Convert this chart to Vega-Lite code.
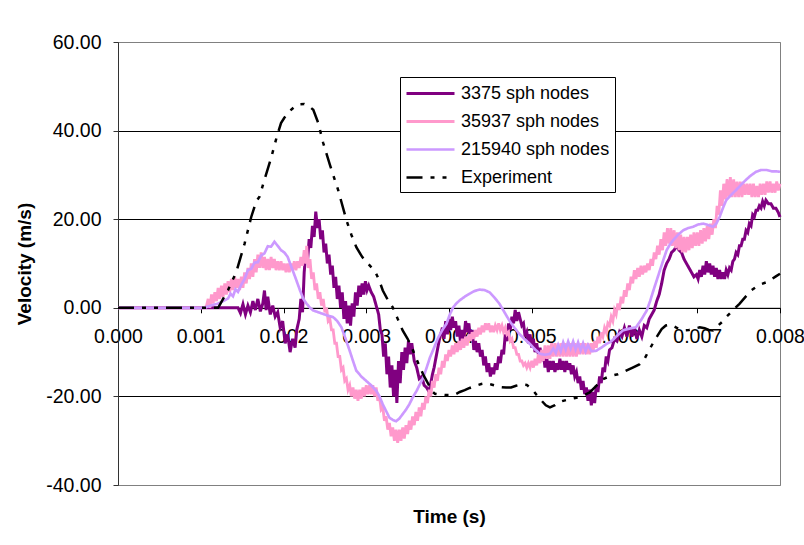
{
  "$schema": "https://vega.github.io/schema/vega-lite/v6.json",
  "width": 662,
  "height": 443,
  "autosize": {"type": "none"},
  "padding": {"left": 118, "top": 42, "right": 24, "bottom": 60},
  "background": "white",
  "config": {
    "font": "Liberation Sans",
    "view": {"stroke": "#808080", "strokeWidth": 1},
    "axis": {
      "labelFont": "Liberation Sans",
      "titleFont": "Liberation Sans",
      "labelColor": "#000",
      "titleColor": "#000",
      "labelFontSize": 19.5,
      "titleFontSize": 19,
      "titleFontWeight": "bold"
    }
  },
  "data": {
    "values": [
      {"s":"3375 sph nodes","t":0,"v":0},{"s":"3375 sph nodes","t":0.0014,"v":0},{"s":"3375 sph nodes","t":0.00145,"v":0},
      {"s":"3375 sph nodes","t":0.00148,"v":-1.2},{"s":"3375 sph nodes","t":0.00151,"v":0.8},{"s":"3375 sph nodes","t":0.00154,"v":-1.5},{"s":"3375 sph nodes","t":0.00157,"v":0.5},
      {"s":"3375 sph nodes","t":0.0016,"v":-1.0},{"s":"3375 sph nodes","t":0.00163,"v":1.5},{"s":"3375 sph nodes","t":0.00166,"v":-0.5},{"s":"3375 sph nodes","t":0.00169,"v":2.0},
      {"s":"3375 sph nodes","t":0.00172,"v":-0.8},{"s":"3375 sph nodes","t":0.00175,"v":1.0},{"s":"3375 sph nodes","t":0.00177,"v":3.9},{"s":"3375 sph nodes","t":0.00179,"v":-0.5},
      {"s":"3375 sph nodes","t":0.00181,"v":2.5},{"s":"3375 sph nodes","t":0.00184,"v":-1.5},{"s":"3375 sph nodes","t":0.00187,"v":0.5},{"s":"3375 sph nodes","t":0.0019,"v":-2.0},
      {"s":"3375 sph nodes","t":0.00193,"v":-1.0},{"s":"3375 sph nodes","t":0.00196,"v":-4.5},{"s":"3375 sph nodes","t":0.00199,"v":-3.0},{"s":"3375 sph nodes","t":0.00202,"v":-8.0},
      {"s":"3375 sph nodes","t":0.00205,"v":-6.0},{"s":"3375 sph nodes","t":0.00208,"v":-10.0},{"s":"3375 sph nodes","t":0.00211,"v":-7.0},{"s":"3375 sph nodes","t":0.00214,"v":-9.0},
      {"s":"3375 sph nodes","t":0.00216,"v":-5.0},{"s":"3375 sph nodes","t":0.00219,"v":-2.5},{"s":"3375 sph nodes","t":0.00221,"v":2.0},{"s":"3375 sph nodes","t":0.00223,"v":-1.0},
      {"s":"3375 sph nodes","t":0.00225,"v":8.0},{"s":"3375 sph nodes","t":0.00227,"v":12.5},{"s":"3375 sph nodes","t":0.00229,"v":10.5},{"s":"3375 sph nodes","t":0.00231,"v":15.5},
      {"s":"3375 sph nodes","t":0.00233,"v":13.5},{"s":"3375 sph nodes","t":0.00235,"v":18.5},{"s":"3375 sph nodes","t":0.00237,"v":16.0},{"s":"3375 sph nodes","t":0.00239,"v":21.7},
      {"s":"3375 sph nodes","t":0.00241,"v":18.0},{"s":"3375 sph nodes","t":0.00243,"v":20.0},{"s":"3375 sph nodes","t":0.00245,"v":15.5},{"s":"3375 sph nodes","t":0.00247,"v":17.5},
      {"s":"3375 sph nodes","t":0.00249,"v":12.5},{"s":"3375 sph nodes","t":0.00251,"v":14.5},{"s":"3375 sph nodes","t":0.00253,"v":10.0},{"s":"3375 sph nodes","t":0.00255,"v":12.0},
      {"s":"3375 sph nodes","t":0.00257,"v":7.5},{"s":"3375 sph nodes","t":0.00259,"v":9.5},{"s":"3375 sph nodes","t":0.00261,"v":4.5},{"s":"3375 sph nodes","t":0.00263,"v":7.0},
      {"s":"3375 sph nodes","t":0.00265,"v":2.0},{"s":"3375 sph nodes","t":0.00267,"v":5.0},{"s":"3375 sph nodes","t":0.00269,"v":0.0},{"s":"3375 sph nodes","t":0.00271,"v":3.5},
      {"s":"3375 sph nodes","t":0.00273,"v":-2.5},{"s":"3375 sph nodes","t":0.00275,"v":1.5},{"s":"3375 sph nodes","t":0.00277,"v":-3.5},{"s":"3375 sph nodes","t":0.00279,"v":0.5},
      {"s":"3375 sph nodes","t":0.00281,"v":-4.0},{"s":"3375 sph nodes","t":0.00283,"v":1.0},{"s":"3375 sph nodes","t":0.00285,"v":-2.0},{"s":"3375 sph nodes","t":0.00287,"v":3.5},
      {"s":"3375 sph nodes","t":0.00289,"v":0.5},{"s":"3375 sph nodes","t":0.00291,"v":5.0},{"s":"3375 sph nodes","t":0.00293,"v":2.5},{"s":"3375 sph nodes","t":0.00295,"v":5.5},
      {"s":"3375 sph nodes","t":0.00297,"v":3.0},{"s":"3375 sph nodes","t":0.00299,"v":6.0},{"s":"3375 sph nodes","t":0.00301,"v":4.0},{"s":"3375 sph nodes","t":0.00303,"v":5.0},
      {"s":"3375 sph nodes","t":0.00306,"v":3.5},{"s":"3375 sph nodes","t":0.00309,"v":2.5},{"s":"3375 sph nodes","t":0.00312,"v":0.5},{"s":"3375 sph nodes","t":0.00315,"v":-1.5},
      {"s":"3375 sph nodes","t":0.00317,"v":-5.0},{"s":"3375 sph nodes","t":0.00319,"v":-6.0},{"s":"3375 sph nodes","t":0.00321,"v":-11.0},{"s":"3375 sph nodes","t":0.00323,"v":-8.0},
      {"s":"3375 sph nodes","t":0.00325,"v":-15.0},{"s":"3375 sph nodes","t":0.00327,"v":-11.0},{"s":"3375 sph nodes","t":0.00329,"v":-18.0},{"s":"3375 sph nodes","t":0.00331,"v":-13.0},
      {"s":"3375 sph nodes","t":0.00333,"v":-20.0},{"s":"3375 sph nodes","t":0.00335,"v":-14.0},{"s":"3375 sph nodes","t":0.00337,"v":-21.5},{"s":"3375 sph nodes","t":0.00339,"v":-12.0},
      {"s":"3375 sph nodes","t":0.00341,"v":-17.0},{"s":"3375 sph nodes","t":0.00343,"v":-10.0},{"s":"3375 sph nodes","t":0.00345,"v":-14.0},{"s":"3375 sph nodes","t":0.00347,"v":-9.0},
      {"s":"3375 sph nodes","t":0.00349,"v":-12.5},{"s":"3375 sph nodes","t":0.00351,"v":-7.5},{"s":"3375 sph nodes","t":0.00353,"v":-10.5},{"s":"3375 sph nodes","t":0.00355,"v":-8.0},
      {"s":"3375 sph nodes","t":0.00358,"v":-12.0},{"s":"3375 sph nodes","t":0.00361,"v":-13.5},{"s":"3375 sph nodes","t":0.00364,"v":-16.0},{"s":"3375 sph nodes","t":0.00367,"v":-15.5},
      {"s":"3375 sph nodes","t":0.0037,"v":-17.5},{"s":"3375 sph nodes","t":0.00373,"v":-18.0},{"s":"3375 sph nodes","t":0.00376,"v":-19.0},{"s":"3375 sph nodes","t":0.00378,"v":-17.0},
      {"s":"3375 sph nodes","t":0.0038,"v":-15.0},{"s":"3375 sph nodes","t":0.00382,"v":-13.5},{"s":"3375 sph nodes","t":0.00384,"v":-11.5},{"s":"3375 sph nodes","t":0.00386,"v":-9.5},
      {"s":"3375 sph nodes","t":0.00388,"v":-7.5},{"s":"3375 sph nodes","t":0.0039,"v":-6.0},{"s":"3375 sph nodes","t":0.00392,"v":-4.5},{"s":"3375 sph nodes","t":0.00394,"v":-7.0},
      {"s":"3375 sph nodes","t":0.00396,"v":-3.0},{"s":"3375 sph nodes","t":0.00398,"v":-6.0},{"s":"3375 sph nodes","t":0.004,"v":-2.5},{"s":"3375 sph nodes","t":0.00402,"v":-5.0},
      {"s":"3375 sph nodes","t":0.00404,"v":-2.0},{"s":"3375 sph nodes","t":0.00406,"v":-4.5},{"s":"3375 sph nodes","t":0.00408,"v":-3.0},{"s":"3375 sph nodes","t":0.0041,"v":-6.5},
      {"s":"3375 sph nodes","t":0.00412,"v":-4.0},{"s":"3375 sph nodes","t":0.00414,"v":-8.0},{"s":"3375 sph nodes","t":0.00416,"v":-5.0},{"s":"3375 sph nodes","t":0.00418,"v":-7.0},
      {"s":"3375 sph nodes","t":0.0042,"v":-3.0},{"s":"3375 sph nodes","t":0.00422,"v":-5.5},{"s":"3375 sph nodes","t":0.00424,"v":-3.5},{"s":"3375 sph nodes","t":0.00426,"v":-7.0},
      {"s":"3375 sph nodes","t":0.00428,"v":-5.0},{"s":"3375 sph nodes","t":0.0043,"v":-9.5},{"s":"3375 sph nodes","t":0.00432,"v":-7.5},{"s":"3375 sph nodes","t":0.00434,"v":-10.0},
      {"s":"3375 sph nodes","t":0.00436,"v":-8.0},{"s":"3375 sph nodes","t":0.00438,"v":-11.0},{"s":"3375 sph nodes","t":0.0044,"v":-9.5},{"s":"3375 sph nodes","t":0.00442,"v":-13.0},
      {"s":"3375 sph nodes","t":0.00444,"v":-11.0},{"s":"3375 sph nodes","t":0.00446,"v":-14.5},{"s":"3375 sph nodes","t":0.00448,"v":-12.5},{"s":"3375 sph nodes","t":0.0045,"v":-15.5},
      {"s":"3375 sph nodes","t":0.00452,"v":-13.5},{"s":"3375 sph nodes","t":0.00454,"v":-15.0},{"s":"3375 sph nodes","t":0.00456,"v":-12.5},{"s":"3375 sph nodes","t":0.00458,"v":-14.0},
      {"s":"3375 sph nodes","t":0.0046,"v":-11.0},{"s":"3375 sph nodes","t":0.00462,"v":-12.5},{"s":"3375 sph nodes","t":0.00464,"v":-9.5},{"s":"3375 sph nodes","t":0.00466,"v":-10.5},
      {"s":"3375 sph nodes","t":0.00468,"v":-6.0},{"s":"3375 sph nodes","t":0.0047,"v":-7.5},{"s":"3375 sph nodes","t":0.00472,"v":-3.5},{"s":"3375 sph nodes","t":0.00474,"v":-5.0},
      {"s":"3375 sph nodes","t":0.00476,"v":-2.0},{"s":"3375 sph nodes","t":0.00478,"v":-3.5},{"s":"3375 sph nodes","t":0.0048,"v":-0.5},{"s":"3375 sph nodes","t":0.00482,"v":-3.0},
      {"s":"3375 sph nodes","t":0.00484,"v":-1.0},{"s":"3375 sph nodes","t":0.00486,"v":-2.5},{"s":"3375 sph nodes","t":0.00488,"v":-4.0},{"s":"3375 sph nodes","t":0.0049,"v":-3.5},
      {"s":"3375 sph nodes","t":0.00492,"v":-6.5},{"s":"3375 sph nodes","t":0.00494,"v":-5.5},{"s":"3375 sph nodes","t":0.00496,"v":-8.0},{"s":"3375 sph nodes","t":0.00498,"v":-6.0},
      {"s":"3375 sph nodes","t":0.005,"v":-9.0},{"s":"3375 sph nodes","t":0.00502,"v":-7.0},{"s":"3375 sph nodes","t":0.00504,"v":-10.0},{"s":"3375 sph nodes","t":0.00506,"v":-8.0},
      {"s":"3375 sph nodes","t":0.00508,"v":-10.5},{"s":"3375 sph nodes","t":0.0051,"v":-9.0},{"s":"3375 sph nodes","t":0.00512,"v":-12.0},{"s":"3375 sph nodes","t":0.00514,"v":-10.0},
      {"s":"3375 sph nodes","t":0.00516,"v":-13.5},{"s":"3375 sph nodes","t":0.00518,"v":-11.0},{"s":"3375 sph nodes","t":0.0052,"v":-14.5},{"s":"3375 sph nodes","t":0.00522,"v":-12.0},
      {"s":"3375 sph nodes","t":0.00524,"v":-14.0},{"s":"3375 sph nodes","t":0.00526,"v":-12.0},{"s":"3375 sph nodes","t":0.00528,"v":-14.5},{"s":"3375 sph nodes","t":0.0053,"v":-12.5},
      {"s":"3375 sph nodes","t":0.00532,"v":-14.0},{"s":"3375 sph nodes","t":0.00534,"v":-11.5},{"s":"3375 sph nodes","t":0.00536,"v":-14.0},{"s":"3375 sph nodes","t":0.00538,"v":-12.0},
      {"s":"3375 sph nodes","t":0.0054,"v":-14.5},{"s":"3375 sph nodes","t":0.00542,"v":-12.0},{"s":"3375 sph nodes","t":0.00544,"v":-14.0},{"s":"3375 sph nodes","t":0.00546,"v":-12.5},
      {"s":"3375 sph nodes","t":0.00548,"v":-15.0},{"s":"3375 sph nodes","t":0.0055,"v":-13.0},{"s":"3375 sph nodes","t":0.00552,"v":-15.5},{"s":"3375 sph nodes","t":0.00554,"v":-14.5},
      {"s":"3375 sph nodes","t":0.00556,"v":-17.0},{"s":"3375 sph nodes","t":0.00558,"v":-15.5},{"s":"3375 sph nodes","t":0.0056,"v":-18.5},{"s":"3375 sph nodes","t":0.00562,"v":-16.5},
      {"s":"3375 sph nodes","t":0.00564,"v":-19.5},{"s":"3375 sph nodes","t":0.00566,"v":-18.0},{"s":"3375 sph nodes","t":0.00568,"v":-21.0},{"s":"3375 sph nodes","t":0.0057,"v":-18.5},
      {"s":"3375 sph nodes","t":0.00572,"v":-22.0},{"s":"3375 sph nodes","t":0.00574,"v":-19.0},{"s":"3375 sph nodes","t":0.00576,"v":-21.5},{"s":"3375 sph nodes","t":0.00578,"v":-17.5},
      {"s":"3375 sph nodes","t":0.0058,"v":-19.0},{"s":"3375 sph nodes","t":0.00582,"v":-15.5},{"s":"3375 sph nodes","t":0.00584,"v":-17.0},{"s":"3375 sph nodes","t":0.00586,"v":-13.5},
      {"s":"3375 sph nodes","t":0.00588,"v":-14.5},{"s":"3375 sph nodes","t":0.0059,"v":-11.0},{"s":"3375 sph nodes","t":0.00592,"v":-12.0},{"s":"3375 sph nodes","t":0.00594,"v":-9.5},
      {"s":"3375 sph nodes","t":0.00597,"v":-9.0},{"s":"3375 sph nodes","t":0.006,"v":-7.0},{"s":"3375 sph nodes","t":0.00603,"v":-7.5},{"s":"3375 sph nodes","t":0.00606,"v":-5.5},
      {"s":"3375 sph nodes","t":0.00609,"v":-6.5},{"s":"3375 sph nodes","t":0.00612,"v":-4.5},{"s":"3375 sph nodes","t":0.00615,"v":-6.5},{"s":"3375 sph nodes","t":0.00618,"v":-4.0},
      {"s":"3375 sph nodes","t":0.00621,"v":-6.5},{"s":"3375 sph nodes","t":0.00624,"v":-4.5},{"s":"3375 sph nodes","t":0.00627,"v":-7.0},{"s":"3375 sph nodes","t":0.0063,"v":-5.0},
      {"s":"3375 sph nodes","t":0.00633,"v":-6.5},{"s":"3375 sph nodes","t":0.00636,"v":-4.0},{"s":"3375 sph nodes","t":0.00639,"v":-4.5},{"s":"3375 sph nodes","t":0.00642,"v":-2.5},
      {"s":"3375 sph nodes","t":0.00645,"v":-1.5},{"s":"3375 sph nodes","t":0.00648,"v":-0.5},{"s":"3375 sph nodes","t":0.00651,"v":1.5},{"s":"3375 sph nodes","t":0.00654,"v":3.0},
      {"s":"3375 sph nodes","t":0.00657,"v":5.5},{"s":"3375 sph nodes","t":0.0066,"v":8.5},{"s":"3375 sph nodes","t":0.00663,"v":10.0},{"s":"3375 sph nodes","t":0.00666,"v":11.0},
      {"s":"3375 sph nodes","t":0.00669,"v":12.5},{"s":"3375 sph nodes","t":0.00672,"v":13.0},{"s":"3375 sph nodes","t":0.00675,"v":14.0},{"s":"3375 sph nodes","t":0.00678,"v":13.0},
      {"s":"3375 sph nodes","t":0.00681,"v":12.5},{"s":"3375 sph nodes","t":0.00684,"v":11.0},{"s":"3375 sph nodes","t":0.00687,"v":10.0},{"s":"3375 sph nodes","t":0.0069,"v":9.0},
      {"s":"3375 sph nodes","t":0.00693,"v":8.0},{"s":"3375 sph nodes","t":0.00696,"v":7.0},{"s":"3375 sph nodes","t":0.00699,"v":7.5},{"s":"3375 sph nodes","t":0.00701,"v":6.5},
      {"s":"3375 sph nodes","t":0.00703,"v":8.5},{"s":"3375 sph nodes","t":0.00705,"v":7.0},{"s":"3375 sph nodes","t":0.00707,"v":9.5},{"s":"3375 sph nodes","t":0.00709,"v":7.5},
      {"s":"3375 sph nodes","t":0.00711,"v":10.5},{"s":"3375 sph nodes","t":0.00713,"v":8.0},{"s":"3375 sph nodes","t":0.00715,"v":10.0},{"s":"3375 sph nodes","t":0.00717,"v":7.5},
      {"s":"3375 sph nodes","t":0.00719,"v":9.5},{"s":"3375 sph nodes","t":0.00721,"v":7.0},{"s":"3375 sph nodes","t":0.00723,"v":9.0},{"s":"3375 sph nodes","t":0.00725,"v":6.5},
      {"s":"3375 sph nodes","t":0.00727,"v":8.5},{"s":"3375 sph nodes","t":0.00729,"v":6.5},{"s":"3375 sph nodes","t":0.00731,"v":8.0},{"s":"3375 sph nodes","t":0.00733,"v":6.5},
      {"s":"3375 sph nodes","t":0.00735,"v":8.5},{"s":"3375 sph nodes","t":0.00737,"v":7.5},{"s":"3375 sph nodes","t":0.00739,"v":9.0},{"s":"3375 sph nodes","t":0.00741,"v":8.5},
      {"s":"3375 sph nodes","t":0.00743,"v":10.5},{"s":"3375 sph nodes","t":0.00745,"v":11.0},{"s":"3375 sph nodes","t":0.00747,"v":12.5},{"s":"3375 sph nodes","t":0.00749,"v":12.0},
      {"s":"3375 sph nodes","t":0.00751,"v":14.0},{"s":"3375 sph nodes","t":0.00753,"v":14.0},{"s":"3375 sph nodes","t":0.00755,"v":15.5},{"s":"3375 sph nodes","t":0.00757,"v":15.5},
      {"s":"3375 sph nodes","t":0.00759,"v":17.5},{"s":"3375 sph nodes","t":0.00761,"v":17.0},{"s":"3375 sph nodes","t":0.00763,"v":19.0},{"s":"3375 sph nodes","t":0.00765,"v":18.5},
      {"s":"3375 sph nodes","t":0.00767,"v":21.0},{"s":"3375 sph nodes","t":0.00769,"v":20.5},{"s":"3375 sph nodes","t":0.00771,"v":22.0},{"s":"3375 sph nodes","t":0.00773,"v":22.0},
      {"s":"3375 sph nodes","t":0.00775,"v":23.0},{"s":"3375 sph nodes","t":0.00777,"v":22.5},{"s":"3375 sph nodes","t":0.00779,"v":24.0},{"s":"3375 sph nodes","t":0.00781,"v":23.0},
      {"s":"3375 sph nodes","t":0.00783,"v":24.3},{"s":"3375 sph nodes","t":0.00786,"v":23.5},{"s":"3375 sph nodes","t":0.00789,"v":23.5},{"s":"3375 sph nodes","t":0.00792,"v":22.5},
      {"s":"3375 sph nodes","t":0.00795,"v":22.5},{"s":"3375 sph nodes","t":0.00798,"v":21.5},{"s":"3375 sph nodes","t":0.008,"v":20.5},

      {"s":"35937 sph nodes","t":0,"v":0},{"s":"35937 sph nodes","t":0.00105,"v":0},{"s":"35937 sph nodes","t":0.00107,"v":0.5},{"s":"35937 sph nodes","t":0.00109,"v":2.0},
      {"s":"35937 sph nodes","t":0.00111,"v":0.0},{"s":"35937 sph nodes","t":0.00113,"v":3.0},{"s":"35937 sph nodes","t":0.00115,"v":1.0},{"s":"35937 sph nodes","t":0.00117,"v":3.5},
      {"s":"35937 sph nodes","t":0.00119,"v":1.5},{"s":"35937 sph nodes","t":0.00121,"v":4.5},{"s":"35937 sph nodes","t":0.00123,"v":2.0},{"s":"35937 sph nodes","t":0.00125,"v":5.0},
      {"s":"35937 sph nodes","t":0.00127,"v":2.5},{"s":"35937 sph nodes","t":0.00129,"v":5.5},{"s":"35937 sph nodes","t":0.00131,"v":3.0},{"s":"35937 sph nodes","t":0.00133,"v":6.0},
      {"s":"35937 sph nodes","t":0.00135,"v":3.5},{"s":"35937 sph nodes","t":0.00137,"v":6.5},{"s":"35937 sph nodes","t":0.00139,"v":4.0},{"s":"35937 sph nodes","t":0.00141,"v":7.0},
      {"s":"35937 sph nodes","t":0.00143,"v":4.5},{"s":"35937 sph nodes","t":0.00145,"v":6.5},{"s":"35937 sph nodes","t":0.00147,"v":4.0},{"s":"35937 sph nodes","t":0.00149,"v":7.0},
      {"s":"35937 sph nodes","t":0.00151,"v":4.5},{"s":"35937 sph nodes","t":0.00153,"v":8.0},{"s":"35937 sph nodes","t":0.00155,"v":5.5},{"s":"35937 sph nodes","t":0.00157,"v":9.0},
      {"s":"35937 sph nodes","t":0.00159,"v":6.5},{"s":"35937 sph nodes","t":0.00161,"v":10.0},{"s":"35937 sph nodes","t":0.00163,"v":7.0},{"s":"35937 sph nodes","t":0.00165,"v":11.0},
      {"s":"35937 sph nodes","t":0.00167,"v":8.0},{"s":"35937 sph nodes","t":0.00169,"v":12.0},{"s":"35937 sph nodes","t":0.00171,"v":9.0},{"s":"35937 sph nodes","t":0.00173,"v":12.5},
      {"s":"35937 sph nodes","t":0.00175,"v":9.0},{"s":"35937 sph nodes","t":0.00177,"v":11.5},{"s":"35937 sph nodes","t":0.00179,"v":8.5},{"s":"35937 sph nodes","t":0.00181,"v":11.0},
      {"s":"35937 sph nodes","t":0.00183,"v":8.5},{"s":"35937 sph nodes","t":0.00185,"v":11.5},{"s":"35937 sph nodes","t":0.00187,"v":9.0},{"s":"35937 sph nodes","t":0.00189,"v":11.0},
      {"s":"35937 sph nodes","t":0.00191,"v":8.5},{"s":"35937 sph nodes","t":0.00193,"v":10.5},{"s":"35937 sph nodes","t":0.00195,"v":8.5},{"s":"35937 sph nodes","t":0.00197,"v":10.5},
      {"s":"35937 sph nodes","t":0.00199,"v":8.5},{"s":"35937 sph nodes","t":0.00201,"v":10.0},{"s":"35937 sph nodes","t":0.00203,"v":8.0},{"s":"35937 sph nodes","t":0.00205,"v":10.0},
      {"s":"35937 sph nodes","t":0.00207,"v":8.0},{"s":"35937 sph nodes","t":0.00209,"v":10.0},{"s":"35937 sph nodes","t":0.00211,"v":8.5},{"s":"35937 sph nodes","t":0.00213,"v":10.5},
      {"s":"35937 sph nodes","t":0.00215,"v":8.5},{"s":"35937 sph nodes","t":0.00217,"v":10.5},{"s":"35937 sph nodes","t":0.00219,"v":9.0},{"s":"35937 sph nodes","t":0.00221,"v":11.5},
      {"s":"35937 sph nodes","t":0.00223,"v":9.5},{"s":"35937 sph nodes","t":0.00225,"v":13.0},{"s":"35937 sph nodes","t":0.00227,"v":10.0},{"s":"35937 sph nodes","t":0.00228,"v":14.0},
      {"s":"35937 sph nodes","t":0.0023,"v":9.0},{"s":"35937 sph nodes","t":0.00232,"v":11.0},{"s":"35937 sph nodes","t":0.00234,"v":6.5},{"s":"35937 sph nodes","t":0.00236,"v":8.0},
      {"s":"35937 sph nodes","t":0.00238,"v":4.0},{"s":"35937 sph nodes","t":0.0024,"v":5.5},{"s":"35937 sph nodes","t":0.00242,"v":2.0},{"s":"35937 sph nodes","t":0.00244,"v":3.5},
      {"s":"35937 sph nodes","t":0.00246,"v":0.5},{"s":"35937 sph nodes","t":0.00248,"v":2.0},{"s":"35937 sph nodes","t":0.0025,"v":-1.0},{"s":"35937 sph nodes","t":0.00252,"v":0.0},
      {"s":"35937 sph nodes","t":0.00254,"v":-3.0},{"s":"35937 sph nodes","t":0.00256,"v":-2.5},{"s":"35937 sph nodes","t":0.00258,"v":-5.0},{"s":"35937 sph nodes","t":0.0026,"v":-5.0},
      {"s":"35937 sph nodes","t":0.00262,"v":-8.0},{"s":"35937 sph nodes","t":0.00264,"v":-8.0},{"s":"35937 sph nodes","t":0.00266,"v":-11.0},{"s":"35937 sph nodes","t":0.00268,"v":-11.0},
      {"s":"35937 sph nodes","t":0.0027,"v":-14.0},{"s":"35937 sph nodes","t":0.00272,"v":-13.5},{"s":"35937 sph nodes","t":0.00274,"v":-16.5},{"s":"35937 sph nodes","t":0.00276,"v":-16.0},
      {"s":"35937 sph nodes","t":0.00278,"v":-18.5},{"s":"35937 sph nodes","t":0.0028,"v":-17.5},{"s":"35937 sph nodes","t":0.00282,"v":-20.0},{"s":"35937 sph nodes","t":0.00284,"v":-18.0},
      {"s":"35937 sph nodes","t":0.00286,"v":-20.5},{"s":"35937 sph nodes","t":0.00288,"v":-18.5},{"s":"35937 sph nodes","t":0.0029,"v":-21.0},{"s":"35937 sph nodes","t":0.00292,"v":-18.5},
      {"s":"35937 sph nodes","t":0.00294,"v":-20.5},{"s":"35937 sph nodes","t":0.00296,"v":-18.0},{"s":"35937 sph nodes","t":0.00298,"v":-20.0},{"s":"35937 sph nodes","t":0.003,"v":-17.5},
      {"s":"35937 sph nodes","t":0.00302,"v":-19.5},{"s":"35937 sph nodes","t":0.00304,"v":-17.5},{"s":"35937 sph nodes","t":0.00306,"v":-19.5},{"s":"35937 sph nodes","t":0.00308,"v":-17.5},
      {"s":"35937 sph nodes","t":0.0031,"v":-20.0},{"s":"35937 sph nodes","t":0.00312,"v":-18.0},{"s":"35937 sph nodes","t":0.00314,"v":-21.0},{"s":"35937 sph nodes","t":0.00316,"v":-20.0},
      {"s":"35937 sph nodes","t":0.00318,"v":-23.0},{"s":"35937 sph nodes","t":0.0032,"v":-22.5},{"s":"35937 sph nodes","t":0.00322,"v":-25.5},{"s":"35937 sph nodes","t":0.00324,"v":-24.5},
      {"s":"35937 sph nodes","t":0.00326,"v":-27.5},{"s":"35937 sph nodes","t":0.00328,"v":-26.0},{"s":"35937 sph nodes","t":0.0033,"v":-29.0},{"s":"35937 sph nodes","t":0.00332,"v":-27.0},
      {"s":"35937 sph nodes","t":0.00334,"v":-30.0},{"s":"35937 sph nodes","t":0.00336,"v":-27.5},{"s":"35937 sph nodes","t":0.00338,"v":-30.5},{"s":"35937 sph nodes","t":0.0034,"v":-27.5},
      {"s":"35937 sph nodes","t":0.00342,"v":-30.0},{"s":"35937 sph nodes","t":0.00344,"v":-27.0},{"s":"35937 sph nodes","t":0.00346,"v":-29.5},{"s":"35937 sph nodes","t":0.00348,"v":-26.5},
      {"s":"35937 sph nodes","t":0.0035,"v":-28.5},{"s":"35937 sph nodes","t":0.00352,"v":-25.5},{"s":"35937 sph nodes","t":0.00354,"v":-27.5},{"s":"35937 sph nodes","t":0.00356,"v":-24.5},
      {"s":"35937 sph nodes","t":0.00358,"v":-26.5},{"s":"35937 sph nodes","t":0.0036,"v":-23.5},{"s":"35937 sph nodes","t":0.00362,"v":-25.5},{"s":"35937 sph nodes","t":0.00364,"v":-22.5},
      {"s":"35937 sph nodes","t":0.00366,"v":-24.5},{"s":"35937 sph nodes","t":0.00368,"v":-21.5},{"s":"35937 sph nodes","t":0.0037,"v":-23.0},{"s":"35937 sph nodes","t":0.00372,"v":-20.0},
      {"s":"35937 sph nodes","t":0.00374,"v":-21.5},{"s":"35937 sph nodes","t":0.00376,"v":-18.5},{"s":"35937 sph nodes","t":0.00378,"v":-20.0},{"s":"35937 sph nodes","t":0.0038,"v":-16.5},
      {"s":"35937 sph nodes","t":0.00382,"v":-18.0},{"s":"35937 sph nodes","t":0.00384,"v":-15.0},{"s":"35937 sph nodes","t":0.00386,"v":-16.5},{"s":"35937 sph nodes","t":0.00388,"v":-13.5},
      {"s":"35937 sph nodes","t":0.0039,"v":-15.0},{"s":"35937 sph nodes","t":0.00392,"v":-12.0},{"s":"35937 sph nodes","t":0.00394,"v":-13.5},{"s":"35937 sph nodes","t":0.00396,"v":-10.5},
      {"s":"35937 sph nodes","t":0.00398,"v":-12.0},{"s":"35937 sph nodes","t":0.004,"v":-9.5},{"s":"35937 sph nodes","t":0.00402,"v":-11.0},{"s":"35937 sph nodes","t":0.00404,"v":-8.5},
      {"s":"35937 sph nodes","t":0.00406,"v":-10.5},{"s":"35937 sph nodes","t":0.00408,"v":-8.0},{"s":"35937 sph nodes","t":0.0041,"v":-10.0},{"s":"35937 sph nodes","t":0.00412,"v":-7.5},
      {"s":"35937 sph nodes","t":0.00414,"v":-9.5},{"s":"35937 sph nodes","t":0.00416,"v":-7.0},{"s":"35937 sph nodes","t":0.00418,"v":-9.0},{"s":"35937 sph nodes","t":0.0042,"v":-6.5},
      {"s":"35937 sph nodes","t":0.00422,"v":-8.5},{"s":"35937 sph nodes","t":0.00424,"v":-6.0},{"s":"35937 sph nodes","t":0.00426,"v":-7.5},{"s":"35937 sph nodes","t":0.00428,"v":-5.5},
      {"s":"35937 sph nodes","t":0.0043,"v":-7.0},{"s":"35937 sph nodes","t":0.00432,"v":-5.0},{"s":"35937 sph nodes","t":0.00434,"v":-6.5},{"s":"35937 sph nodes","t":0.00436,"v":-4.5},
      {"s":"35937 sph nodes","t":0.00438,"v":-6.0},{"s":"35937 sph nodes","t":0.0044,"v":-4.0},{"s":"35937 sph nodes","t":0.00442,"v":-5.5},{"s":"35937 sph nodes","t":0.00444,"v":-3.5},
      {"s":"35937 sph nodes","t":0.00446,"v":-5.0},{"s":"35937 sph nodes","t":0.00448,"v":-3.5},{"s":"35937 sph nodes","t":0.0045,"v":-5.5},{"s":"35937 sph nodes","t":0.00452,"v":-4.0},
      {"s":"35937 sph nodes","t":0.00454,"v":-5.5},{"s":"35937 sph nodes","t":0.00456,"v":-4.0},{"s":"35937 sph nodes","t":0.00458,"v":-5.0},{"s":"35937 sph nodes","t":0.0046,"v":-3.5},
      {"s":"35937 sph nodes","t":0.00462,"v":-5.0},{"s":"35937 sph nodes","t":0.00464,"v":-4.0},{"s":"35937 sph nodes","t":0.00466,"v":-5.5},{"s":"35937 sph nodes","t":0.00468,"v":-4.5},
      {"s":"35937 sph nodes","t":0.0047,"v":-6.0},{"s":"35937 sph nodes","t":0.00472,"v":-5.5},{"s":"35937 sph nodes","t":0.00474,"v":-7.5},{"s":"35937 sph nodes","t":0.00476,"v":-7.0},
      {"s":"35937 sph nodes","t":0.00478,"v":-9.0},{"s":"35937 sph nodes","t":0.0048,"v":-9.0},{"s":"35937 sph nodes","t":0.00482,"v":-10.5},{"s":"35937 sph nodes","t":0.00484,"v":-10.5},
      {"s":"35937 sph nodes","t":0.00486,"v":-12.0},{"s":"35937 sph nodes","t":0.00488,"v":-12.0},{"s":"35937 sph nodes","t":0.0049,"v":-13.0},{"s":"35937 sph nodes","t":0.00492,"v":-12.5},
      {"s":"35937 sph nodes","t":0.00494,"v":-13.5},{"s":"35937 sph nodes","t":0.00496,"v":-12.5},{"s":"35937 sph nodes","t":0.00498,"v":-13.5},{"s":"35937 sph nodes","t":0.005,"v":-12.0},
      {"s":"35937 sph nodes","t":0.00502,"v":-13.5},{"s":"35937 sph nodes","t":0.00504,"v":-11.5},{"s":"35937 sph nodes","t":0.00506,"v":-13.0},{"s":"35937 sph nodes","t":0.00508,"v":-10.5},
      {"s":"35937 sph nodes","t":0.0051,"v":-12.5},{"s":"35937 sph nodes","t":0.00512,"v":-9.5},{"s":"35937 sph nodes","t":0.00514,"v":-12.0},{"s":"35937 sph nodes","t":0.00516,"v":-8.5},
      {"s":"35937 sph nodes","t":0.00518,"v":-11.5},{"s":"35937 sph nodes","t":0.0052,"v":-8.5},{"s":"35937 sph nodes","t":0.00522,"v":-11.5},{"s":"35937 sph nodes","t":0.00524,"v":-8.0},
      {"s":"35937 sph nodes","t":0.00526,"v":-11.0},{"s":"35937 sph nodes","t":0.00528,"v":-8.0},{"s":"35937 sph nodes","t":0.0053,"v":-11.0},{"s":"35937 sph nodes","t":0.00532,"v":-8.0},
      {"s":"35937 sph nodes","t":0.00534,"v":-11.0},{"s":"35937 sph nodes","t":0.00536,"v":-8.0},{"s":"35937 sph nodes","t":0.00538,"v":-11.0},{"s":"35937 sph nodes","t":0.0054,"v":-8.0},
      {"s":"35937 sph nodes","t":0.00542,"v":-11.0},{"s":"35937 sph nodes","t":0.00544,"v":-8.0},{"s":"35937 sph nodes","t":0.00546,"v":-11.0},{"s":"35937 sph nodes","t":0.00548,"v":-8.0},
      {"s":"35937 sph nodes","t":0.0055,"v":-11.0},{"s":"35937 sph nodes","t":0.00552,"v":-8.0},{"s":"35937 sph nodes","t":0.00554,"v":-11.0},{"s":"35937 sph nodes","t":0.00556,"v":-8.0},
      {"s":"35937 sph nodes","t":0.00558,"v":-10.5},{"s":"35937 sph nodes","t":0.0056,"v":-8.0},{"s":"35937 sph nodes","t":0.00562,"v":-10.5},{"s":"35937 sph nodes","t":0.00564,"v":-8.0},
      {"s":"35937 sph nodes","t":0.00566,"v":-10.5},{"s":"35937 sph nodes","t":0.00568,"v":-8.0},{"s":"35937 sph nodes","t":0.0057,"v":-10.5},{"s":"35937 sph nodes","t":0.00572,"v":-8.0},
      {"s":"35937 sph nodes","t":0.00574,"v":-10.0},{"s":"35937 sph nodes","t":0.00576,"v":-7.5},{"s":"35937 sph nodes","t":0.00578,"v":-9.0},{"s":"35937 sph nodes","t":0.0058,"v":-6.5},
      {"s":"35937 sph nodes","t":0.00582,"v":-8.0},{"s":"35937 sph nodes","t":0.00584,"v":-5.5},{"s":"35937 sph nodes","t":0.00586,"v":-6.5},{"s":"35937 sph nodes","t":0.00588,"v":-4.5},
      {"s":"35937 sph nodes","t":0.0059,"v":-5.5},{"s":"35937 sph nodes","t":0.00592,"v":-3.5},{"s":"35937 sph nodes","t":0.00594,"v":-4.0},{"s":"35937 sph nodes","t":0.00596,"v":-2.0},
      {"s":"35937 sph nodes","t":0.00598,"v":-3.0},{"s":"35937 sph nodes","t":0.006,"v":-0.5},{"s":"35937 sph nodes","t":0.00602,"v":-1.5},{"s":"35937 sph nodes","t":0.00604,"v":1.0},
      {"s":"35937 sph nodes","t":0.00606,"v":-0.5},{"s":"35937 sph nodes","t":0.00608,"v":2.5},{"s":"35937 sph nodes","t":0.0061,"v":1.0},{"s":"35937 sph nodes","t":0.00612,"v":4.0},
      {"s":"35937 sph nodes","t":0.00614,"v":2.5},{"s":"35937 sph nodes","t":0.00616,"v":5.5},{"s":"35937 sph nodes","t":0.00618,"v":4.0},{"s":"35937 sph nodes","t":0.0062,"v":7.0},
      {"s":"35937 sph nodes","t":0.00622,"v":5.5},{"s":"35937 sph nodes","t":0.00624,"v":8.5},{"s":"35937 sph nodes","t":0.00626,"v":6.5},{"s":"35937 sph nodes","t":0.00628,"v":9.0},
      {"s":"35937 sph nodes","t":0.0063,"v":7.0},{"s":"35937 sph nodes","t":0.00632,"v":9.5},{"s":"35937 sph nodes","t":0.00634,"v":7.5},{"s":"35937 sph nodes","t":0.00636,"v":9.5},
      {"s":"35937 sph nodes","t":0.00638,"v":8.0},{"s":"35937 sph nodes","t":0.0064,"v":10.0},{"s":"35937 sph nodes","t":0.00642,"v":8.5},{"s":"35937 sph nodes","t":0.00644,"v":11.0},
      {"s":"35937 sph nodes","t":0.00646,"v":9.5},{"s":"35937 sph nodes","t":0.00648,"v":12.5},{"s":"35937 sph nodes","t":0.0065,"v":11.0},{"s":"35937 sph nodes","t":0.00652,"v":14.0},
      {"s":"35937 sph nodes","t":0.00654,"v":12.0},{"s":"35937 sph nodes","t":0.00656,"v":15.5},{"s":"35937 sph nodes","t":0.00658,"v":13.0},{"s":"35937 sph nodes","t":0.0066,"v":17.0},
      {"s":"35937 sph nodes","t":0.00662,"v":14.0},{"s":"35937 sph nodes","t":0.00664,"v":18.0},{"s":"35937 sph nodes","t":0.00666,"v":14.5},{"s":"35937 sph nodes","t":0.00668,"v":18.0},
      {"s":"35937 sph nodes","t":0.0067,"v":14.0},{"s":"35937 sph nodes","t":0.00672,"v":17.5},{"s":"35937 sph nodes","t":0.00674,"v":13.5},{"s":"35937 sph nodes","t":0.00676,"v":17.0},
      {"s":"35937 sph nodes","t":0.00678,"v":13.0},{"s":"35937 sph nodes","t":0.0068,"v":16.5},{"s":"35937 sph nodes","t":0.00682,"v":12.5},{"s":"35937 sph nodes","t":0.00684,"v":16.0},
      {"s":"35937 sph nodes","t":0.00686,"v":12.5},{"s":"35937 sph nodes","t":0.00688,"v":16.0},{"s":"35937 sph nodes","t":0.0069,"v":13.0},{"s":"35937 sph nodes","t":0.00692,"v":16.5},
      {"s":"35937 sph nodes","t":0.00694,"v":13.5},{"s":"35937 sph nodes","t":0.00696,"v":17.0},{"s":"35937 sph nodes","t":0.00698,"v":14.0},{"s":"35937 sph nodes","t":0.007,"v":17.0},
      {"s":"35937 sph nodes","t":0.00702,"v":14.0},{"s":"35937 sph nodes","t":0.00704,"v":17.5},{"s":"35937 sph nodes","t":0.00706,"v":14.5},{"s":"35937 sph nodes","t":0.00708,"v":18.0},
      {"s":"35937 sph nodes","t":0.0071,"v":15.0},{"s":"35937 sph nodes","t":0.00712,"v":18.5},{"s":"35937 sph nodes","t":0.00714,"v":15.5},{"s":"35937 sph nodes","t":0.00716,"v":19.0},
      {"s":"35937 sph nodes","t":0.00718,"v":16.5},{"s":"35937 sph nodes","t":0.0072,"v":20.0},{"s":"35937 sph nodes","t":0.00722,"v":18.0},{"s":"35937 sph nodes","t":0.00724,"v":23.0},
      {"s":"35937 sph nodes","t":0.00726,"v":21.0},{"s":"35937 sph nodes","t":0.00728,"v":26.5},{"s":"35937 sph nodes","t":0.0073,"v":23.0},{"s":"35937 sph nodes","t":0.00732,"v":28.0},
      {"s":"35937 sph nodes","t":0.00734,"v":24.5},{"s":"35937 sph nodes","t":0.00736,"v":29.0},{"s":"35937 sph nodes","t":0.00738,"v":25.0},{"s":"35937 sph nodes","t":0.0074,"v":29.5},
      {"s":"35937 sph nodes","t":0.00742,"v":25.0},{"s":"35937 sph nodes","t":0.00744,"v":29.0},{"s":"35937 sph nodes","t":0.00746,"v":25.0},{"s":"35937 sph nodes","t":0.00748,"v":28.5},
      {"s":"35937 sph nodes","t":0.0075,"v":25.0},{"s":"35937 sph nodes","t":0.00752,"v":28.5},{"s":"35937 sph nodes","t":0.00754,"v":25.0},{"s":"35937 sph nodes","t":0.00756,"v":28.0},
      {"s":"35937 sph nodes","t":0.00758,"v":25.5},{"s":"35937 sph nodes","t":0.0076,"v":28.0},{"s":"35937 sph nodes","t":0.00762,"v":25.5},{"s":"35937 sph nodes","t":0.00764,"v":28.0},
      {"s":"35937 sph nodes","t":0.00766,"v":25.0},{"s":"35937 sph nodes","t":0.00768,"v":28.0},{"s":"35937 sph nodes","t":0.0077,"v":25.0},{"s":"35937 sph nodes","t":0.00772,"v":27.5},
      {"s":"35937 sph nodes","t":0.00774,"v":25.0},{"s":"35937 sph nodes","t":0.00776,"v":28.0},{"s":"35937 sph nodes","t":0.00778,"v":25.5},{"s":"35937 sph nodes","t":0.0078,"v":28.0},
      {"s":"35937 sph nodes","t":0.00782,"v":25.5},{"s":"35937 sph nodes","t":0.00784,"v":28.5},{"s":"35937 sph nodes","t":0.00786,"v":26.0},{"s":"35937 sph nodes","t":0.00788,"v":28.5},
      {"s":"35937 sph nodes","t":0.0079,"v":26.0},{"s":"35937 sph nodes","t":0.00792,"v":28.0},{"s":"35937 sph nodes","t":0.00794,"v":26.0},{"s":"35937 sph nodes","t":0.00796,"v":28.5},
      {"s":"35937 sph nodes","t":0.00798,"v":26.5},{"s":"35937 sph nodes","t":0.008,"v":28.0},

      {"s":"215940 sph nodes","t":0,"v":0},{"s":"215940 sph nodes","t":0.001,"v":0},{"s":"215940 sph nodes","t":0.00104,"v":0},{"s":"215940 sph nodes","t":0.00112,"v":0.5},
      {"s":"215940 sph nodes","t":0.0012,"v":0.9},{"s":"215940 sph nodes","t":0.00127,"v":1.5},{"s":"215940 sph nodes","t":0.00133,"v":2.1},{"s":"215940 sph nodes","t":0.00136,"v":3.2},
      {"s":"215940 sph nodes","t":0.00139,"v":2.6},{"s":"215940 sph nodes","t":0.00142,"v":4.2},{"s":"215940 sph nodes","t":0.00145,"v":3.6},{"s":"215940 sph nodes","t":0.00149,"v":5.2},
      {"s":"215940 sph nodes","t":0.00153,"v":6.5},{"s":"215940 sph nodes","t":0.00157,"v":8.5},{"s":"215940 sph nodes","t":0.00161,"v":8.8},{"s":"215940 sph nodes","t":0.00165,"v":10.2},
      {"s":"215940 sph nodes","t":0.00169,"v":10.3},{"s":"215940 sph nodes","t":0.00173,"v":11.8},{"s":"215940 sph nodes","t":0.00177,"v":12.3},{"s":"215940 sph nodes","t":0.00181,"v":13.9},
      {"s":"215940 sph nodes","t":0.00185,"v":13.8},{"s":"215940 sph nodes","t":0.00189,"v":14.9},{"s":"215940 sph nodes","t":0.00193,"v":14.0},{"s":"215940 sph nodes","t":0.00197,"v":13.0},
      {"s":"215940 sph nodes","t":0.00201,"v":12.5},{"s":"215940 sph nodes","t":0.00205,"v":11.5},{"s":"215940 sph nodes","t":0.00208,"v":10.0},{"s":"215940 sph nodes","t":0.00211,"v":8.5},
      {"s":"215940 sph nodes","t":0.00215,"v":6.5},{"s":"215940 sph nodes","t":0.0022,"v":3.9},{"s":"215940 sph nodes","t":0.00224,"v":2.0},{"s":"215940 sph nodes","t":0.00228,"v":0.9},
      {"s":"215940 sph nodes","t":0.00232,"v":0.0},{"s":"215940 sph nodes","t":0.00236,"v":-0.6},{"s":"215940 sph nodes","t":0.00242,"v":-1.0},{"s":"215940 sph nodes","t":0.00248,"v":-1.4},
      {"s":"215940 sph nodes","t":0.00254,"v":-1.8},{"s":"215940 sph nodes","t":0.0026,"v":-2.1},{"s":"215940 sph nodes","t":0.00265,"v":-3.0},{"s":"215940 sph nodes","t":0.0027,"v":-4.4},
      {"s":"215940 sph nodes","t":0.00275,"v":-7.0},{"s":"215940 sph nodes","t":0.0028,"v":-9.7},{"s":"215940 sph nodes","t":0.00284,"v":-12.0},{"s":"215940 sph nodes","t":0.00288,"v":-14.2},
      {"s":"215940 sph nodes","t":0.00294,"v":-15.5},{"s":"215940 sph nodes","t":0.003,"v":-16.5},{"s":"215940 sph nodes","t":0.00306,"v":-17.5},{"s":"215940 sph nodes","t":0.00312,"v":-18.7},
      {"s":"215940 sph nodes","t":0.00316,"v":-20.0},{"s":"215940 sph nodes","t":0.0032,"v":-21.8},{"s":"215940 sph nodes","t":0.00324,"v":-23.3},{"s":"215940 sph nodes","t":0.00328,"v":-24.8},
      {"s":"215940 sph nodes","t":0.00332,"v":-25.3},{"s":"215940 sph nodes","t":0.00336,"v":-25.6},{"s":"215940 sph nodes","t":0.0034,"v":-25.0},{"s":"215940 sph nodes","t":0.00344,"v":-24.0},
      {"s":"215940 sph nodes","t":0.00348,"v":-23.0},{"s":"215940 sph nodes","t":0.00352,"v":-21.8},{"s":"215940 sph nodes","t":0.00356,"v":-20.3},{"s":"215940 sph nodes","t":0.00361,"v":-18.7},
      {"s":"215940 sph nodes","t":0.00365,"v":-17.2},{"s":"215940 sph nodes","t":0.00369,"v":-15.7},{"s":"215940 sph nodes","t":0.00373,"v":-13.5},{"s":"215940 sph nodes","t":0.00377,"v":-11.2},
      {"s":"215940 sph nodes","t":0.00382,"v":-9.0},{"s":"215940 sph nodes","t":0.00387,"v":-6.7},{"s":"215940 sph nodes","t":0.00392,"v":-5.0},{"s":"215940 sph nodes","t":0.00397,"v":-3.6},
      {"s":"215940 sph nodes","t":0.00401,"v":-1.5},{"s":"215940 sph nodes","t":0.00405,"v":0.1},{"s":"215940 sph nodes","t":0.00409,"v":1.0},{"s":"215940 sph nodes","t":0.00413,"v":1.7},
      {"s":"215940 sph nodes","t":0.00419,"v":2.5},{"s":"215940 sph nodes","t":0.00425,"v":3.2},{"s":"215940 sph nodes","t":0.00431,"v":3.8},{"s":"215940 sph nodes","t":0.00437,"v":4.1},
      {"s":"215940 sph nodes","t":0.00443,"v":4.0},{"s":"215940 sph nodes","t":0.00449,"v":3.5},{"s":"215940 sph nodes","t":0.00455,"v":2.3},{"s":"215940 sph nodes","t":0.00461,"v":0.9},
      {"s":"215940 sph nodes","t":0.00467,"v":-1.0},{"s":"215940 sph nodes","t":0.00473,"v":-2.9},{"s":"215940 sph nodes","t":0.00479,"v":-4.5},{"s":"215940 sph nodes","t":0.00485,"v":-5.9},
      {"s":"215940 sph nodes","t":0.00491,"v":-7.0},{"s":"215940 sph nodes","t":0.00498,"v":-8.2},{"s":"215940 sph nodes","t":0.00504,"v":-9.4},{"s":"215940 sph nodes","t":0.0051,"v":-10.4},
      {"s":"215940 sph nodes","t":0.00516,"v":-10.6},{"s":"215940 sph nodes","t":0.00522,"v":-10.4},{"s":"215940 sph nodes","t":0.00526,"v":-9.2},{"s":"215940 sph nodes","t":0.00529,"v":-10.2},
      {"s":"215940 sph nodes","t":0.00532,"v":-8.4},{"s":"215940 sph nodes","t":0.00535,"v":-9.8},{"s":"215940 sph nodes","t":0.00538,"v":-7.8},{"s":"215940 sph nodes","t":0.00541,"v":-9.4},
      {"s":"215940 sph nodes","t":0.00544,"v":-7.6},{"s":"215940 sph nodes","t":0.00547,"v":-9.2},{"s":"215940 sph nodes","t":0.0055,"v":-7.6},{"s":"215940 sph nodes","t":0.00553,"v":-9.4},
      {"s":"215940 sph nodes","t":0.00556,"v":-7.8},{"s":"215940 sph nodes","t":0.00559,"v":-9.6},{"s":"215940 sph nodes","t":0.00562,"v":-8.0},{"s":"215940 sph nodes","t":0.00565,"v":-9.8},
      {"s":"215940 sph nodes","t":0.00568,"v":-8.4},{"s":"215940 sph nodes","t":0.00572,"v":-9.8},{"s":"215940 sph nodes","t":0.00578,"v":-9.7},{"s":"215940 sph nodes","t":0.00584,"v":-9.0},
      {"s":"215940 sph nodes","t":0.0059,"v":-8.2},{"s":"215940 sph nodes","t":0.00596,"v":-7.6},{"s":"215940 sph nodes","t":0.00602,"v":-6.5},{"s":"215940 sph nodes","t":0.0061,"v":-5.1},
      {"s":"215940 sph nodes","t":0.00618,"v":-4.7},{"s":"215940 sph nodes","t":0.00626,"v":-4.4},{"s":"215940 sph nodes","t":0.00633,"v":-2.5},{"s":"215940 sph nodes","t":0.00639,"v":-0.6},
      {"s":"215940 sph nodes","t":0.00643,"v":1.5},{"s":"215940 sph nodes","t":0.00647,"v":3.9},{"s":"215940 sph nodes","t":0.00651,"v":6.2},{"s":"215940 sph nodes","t":0.00655,"v":8.5},
      {"s":"215940 sph nodes","t":0.00659,"v":10.8},{"s":"215940 sph nodes","t":0.00663,"v":13.0},{"s":"215940 sph nodes","t":0.00667,"v":14.3},{"s":"215940 sph nodes","t":0.00671,"v":15.3},
      {"s":"215940 sph nodes","t":0.00677,"v":16.5},{"s":"215940 sph nodes","t":0.00683,"v":17.5},{"s":"215940 sph nodes","t":0.00689,"v":18.0},{"s":"215940 sph nodes","t":0.00695,"v":18.3},
      {"s":"215940 sph nodes","t":0.00701,"v":18.8},{"s":"215940 sph nodes","t":0.00707,"v":19.0},{"s":"215940 sph nodes","t":0.00713,"v":18.7},{"s":"215940 sph nodes","t":0.00719,"v":18.3},
      {"s":"215940 sph nodes","t":0.00723,"v":19.0},{"s":"215940 sph nodes","t":0.00727,"v":20.5},{"s":"215940 sph nodes","t":0.00731,"v":22.5},{"s":"215940 sph nodes","t":0.00735,"v":24.3},
      {"s":"215940 sph nodes","t":0.00741,"v":25.5},{"s":"215940 sph nodes","t":0.00747,"v":26.6},{"s":"215940 sph nodes","t":0.00753,"v":27.8},{"s":"215940 sph nodes","t":0.00759,"v":28.9},
      {"s":"215940 sph nodes","t":0.00765,"v":29.9},{"s":"215940 sph nodes","t":0.00771,"v":30.7},{"s":"215940 sph nodes","t":0.00777,"v":31.1},{"s":"215940 sph nodes","t":0.00784,"v":31.1},
      {"s":"215940 sph nodes","t":0.0079,"v":30.8},{"s":"215940 sph nodes","t":0.00795,"v":30.8},{"s":"215940 sph nodes","t":0.008,"v":30.7},

      {"s":"Experiment","t":0,"v":0},{"s":"Experiment","t":0.00121,"v":0},{"s":"Experiment","t":0.00124,"v":1.0},{"s":"Experiment","t":0.00133,"v":4.0},
      {"s":"Experiment","t":0.00143,"v":8.1},{"s":"Experiment","t":0.00153,"v":14.5},{"s":"Experiment","t":0.00161,"v":20.5},{"s":"Experiment","t":0.00167,"v":24.0},
      {"s":"Experiment","t":0.00171,"v":25.1},{"s":"Experiment","t":0.00177,"v":28.9},{"s":"Experiment","t":0.00185,"v":33.8},{"s":"Experiment","t":0.00192,"v":38.7},
      {"s":"Experiment","t":0.00197,"v":41.7},{"s":"Experiment","t":0.00201,"v":42.9},{"s":"Experiment","t":0.00208,"v":44.5},{"s":"Experiment","t":0.00214,"v":45.5},
      {"s":"Experiment","t":0.00218,"v":45.9},{"s":"Experiment","t":0.00225,"v":46.0},{"s":"Experiment","t":0.0023,"v":45.6},{"s":"Experiment","t":0.00236,"v":44.7},
      {"s":"Experiment","t":0.00242,"v":41.7},{"s":"Experiment","t":0.00248,"v":37.2},{"s":"Experiment","t":0.00256,"v":32.3},{"s":"Experiment","t":0.00266,"v":26.6},
      {"s":"Experiment","t":0.00276,"v":19.8},{"s":"Experiment","t":0.00282,"v":16.5},{"s":"Experiment","t":0.00288,"v":13.7},{"s":"Experiment","t":0.00295,"v":11.5},
      {"s":"Experiment","t":0.00302,"v":10.0},{"s":"Experiment","t":0.00308,"v":8.8},{"s":"Experiment","t":0.00312,"v":7.7},{"s":"Experiment","t":0.00316,"v":6.0},
      {"s":"Experiment","t":0.0032,"v":3.9},{"s":"Experiment","t":0.00326,"v":1.8},{"s":"Experiment","t":0.00332,"v":0.1},{"s":"Experiment","t":0.00338,"v":-2.5},
      {"s":"Experiment","t":0.00344,"v":-5.1},{"s":"Experiment","t":0.0035,"v":-7.0},{"s":"Experiment","t":0.00355,"v":-8.9},{"s":"Experiment","t":0.0036,"v":-11.3},
      {"s":"Experiment","t":0.00365,"v":-13.5},{"s":"Experiment","t":0.0037,"v":-15.5},{"s":"Experiment","t":0.00375,"v":-17.2},{"s":"Experiment","t":0.00379,"v":-18.8},
      {"s":"Experiment","t":0.00383,"v":-19.4},{"s":"Experiment","t":0.00389,"v":-19.6},{"s":"Experiment","t":0.00395,"v":-19.7},{"s":"Experiment","t":0.00401,"v":-19.7},
      {"s":"Experiment","t":0.00407,"v":-19.6},{"s":"Experiment","t":0.00413,"v":-19.0},{"s":"Experiment","t":0.00419,"v":-18.6},{"s":"Experiment","t":0.00425,"v":-18.1},
      {"s":"Experiment","t":0.00432,"v":-17.6},{"s":"Experiment","t":0.00439,"v":-17.2},{"s":"Experiment","t":0.00445,"v":-17.0},{"s":"Experiment","t":0.00451,"v":-17.3},
      {"s":"Experiment","t":0.00457,"v":-17.6},{"s":"Experiment","t":0.00463,"v":-17.9},{"s":"Experiment","t":0.00469,"v":-18.0},{"s":"Experiment","t":0.00475,"v":-18.0},
      {"s":"Experiment","t":0.00481,"v":-17.6},{"s":"Experiment","t":0.00487,"v":-17.3},{"s":"Experiment","t":0.00494,"v":-17.4},{"s":"Experiment","t":0.005,"v":-18.3},
      {"s":"Experiment","t":0.00506,"v":-19.7},{"s":"Experiment","t":0.00512,"v":-21.0},{"s":"Experiment","t":0.00517,"v":-22.0},{"s":"Experiment","t":0.00522,"v":-22.5},
      {"s":"Experiment","t":0.00528,"v":-22.0},{"s":"Experiment","t":0.00533,"v":-21.3},{"s":"Experiment","t":0.00538,"v":-21.0},{"s":"Experiment","t":0.00546,"v":-20.6},
      {"s":"Experiment","t":0.00554,"v":-20.3},{"s":"Experiment","t":0.00562,"v":-19.8},{"s":"Experiment","t":0.0057,"v":-19.1},{"s":"Experiment","t":0.00578,"v":-17.6},
      {"s":"Experiment","t":0.00586,"v":-16.1},{"s":"Experiment","t":0.00595,"v":-15.4},{"s":"Experiment","t":0.00604,"v":-15.0},{"s":"Experiment","t":0.00613,"v":-14.3},
      {"s":"Experiment","t":0.00622,"v":-13.5},{"s":"Experiment","t":0.0063,"v":-12.8},{"s":"Experiment","t":0.00636,"v":-11.6},{"s":"Experiment","t":0.00642,"v":-9.5},
      {"s":"Experiment","t":0.00647,"v":-7.8},{"s":"Experiment","t":0.00652,"v":-6.3},{"s":"Experiment","t":0.00657,"v":-4.8},{"s":"Experiment","t":0.00662,"v":-4.0},
      {"s":"Experiment","t":0.00667,"v":-3.8},{"s":"Experiment","t":0.00672,"v":-4.2},{"s":"Experiment","t":0.00677,"v":-4.7},{"s":"Experiment","t":0.00683,"v":-5.1},
      {"s":"Experiment","t":0.0069,"v":-5.0},{"s":"Experiment","t":0.00697,"v":-4.7},{"s":"Experiment","t":0.00703,"v":-4.4},{"s":"Experiment","t":0.00709,"v":-4.6},
      {"s":"Experiment","t":0.00714,"v":-5.0},{"s":"Experiment","t":0.00719,"v":-5.1},{"s":"Experiment","t":0.00724,"v":-4.2},{"s":"Experiment","t":0.0073,"v":-3.2},
      {"s":"Experiment","t":0.00735,"v":-2.1},{"s":"Experiment","t":0.00743,"v":-0.6},{"s":"Experiment","t":0.00751,"v":0.9},{"s":"Experiment","t":0.00758,"v":2.4},
      {"s":"Experiment","t":0.00765,"v":3.9},{"s":"Experiment","t":0.00772,"v":4.8},{"s":"Experiment","t":0.00778,"v":5.4},{"s":"Experiment","t":0.00784,"v":5.8},
      {"s":"Experiment","t":0.0079,"v":6.5},{"s":"Experiment","t":0.00795,"v":7.1},{"s":"Experiment","t":0.008,"v":7.7}
    ]
  },
  "encoding": {
    "x": {
      "field": "t",
      "type": "quantitative",
      "scale": {"domain": [0, 0.008], "nice": false, "zero": false},
      "axis": {
        "title": "Time (s)",
        "values": [0, 0.001, 0.002, 0.003, 0.004, 0.005, 0.006, 0.007, 0.008],
        "format": ".3f",
        "offset": -177.2,
        "grid": false,
        "domain": true,
        "domainColor": "#000",
        "tickColor": "#000",
        "tickSize": 5,
        "labelPadding": 15,
        "labelFlush": false,
        "labelOverlap": false,
        "titlePadding": 161
      }
    },
    "y": {
      "field": "v",
      "type": "quantitative",
      "scale": {"domain": [-40, 60], "nice": false},
      "axis": {
        "title": "Velocity (m/s)",
        "values": [-40, -20, 0, 20, 40, 60],
        "labelExpr": "replace(format(datum.value, '.2f'), '\u2212', '-')",
        "grid": true,
        "gridColor": {"condition": {"test": "datum.value === 60 || datum.value === -40", "value": "#808080"}, "value": "#000"},
        "domainColor": "#333",
        "tickColor": "#333",
        "tickSize": 5,
        "labelPadding": 12,
        "titlePadding": 11
      }
    },
    "color": {
      "field": "s",
      "type": "nominal",
      "scale": {
        "domain": ["3375 sph nodes", "35937 sph nodes", "215940 sph nodes", "Experiment"],
        "range": ["#800080", "#FF99CC", "#CC99FF", "#000000"]
      },
      "legend": {
        "orient": "none",
        "legendX": 282,
        "legendY": 35,
        "title": null,
        "symbolType": "M-1,0H3.8",
        "symbolSize": 400,
        "labelFontSize": 18,
        "labelFont": "Liberation Sans",
        "labelColor": "#000",
        "labelLimit": 300,
        "labelOffset": 33,
        "padding": 5,
        "rowPadding": 7,
        "strokeColor": "#000",
        "fillColor": "#fff"
      }
    },
    "strokeDash": {
      "field": "s",
      "type": "nominal",
      "scale": {
        "domain": ["3375 sph nodes", "35937 sph nodes", "215940 sph nodes", "Experiment"],
        "range": [[1, 0], [1, 0], [1, 0], [16, 8, 4, 8, 4, 8]]
      }
    },
    "strokeWidth": {
      "field": "s",
      "type": "nominal",
      "scale": {
        "domain": ["3375 sph nodes", "35937 sph nodes", "215940 sph nodes", "Experiment"],
        "range": [3, 2.5, 2.5, 2.5]
      }
    }
  },
  "layer": [
    {"transform": [{"filter": "datum.s === '3375 sph nodes'"}], "mark": {"type": "line"}},
    {"transform": [{"filter": "datum.s === '35937 sph nodes'"}], "mark": {"type": "line"}},
    {"transform": [{"filter": "datum.s === '215940 sph nodes'"}], "mark": {"type": "line"}},
    {"transform": [{"filter": "datum.s === 'Experiment'"}], "mark": {"type": "line"}}
  ]
}
